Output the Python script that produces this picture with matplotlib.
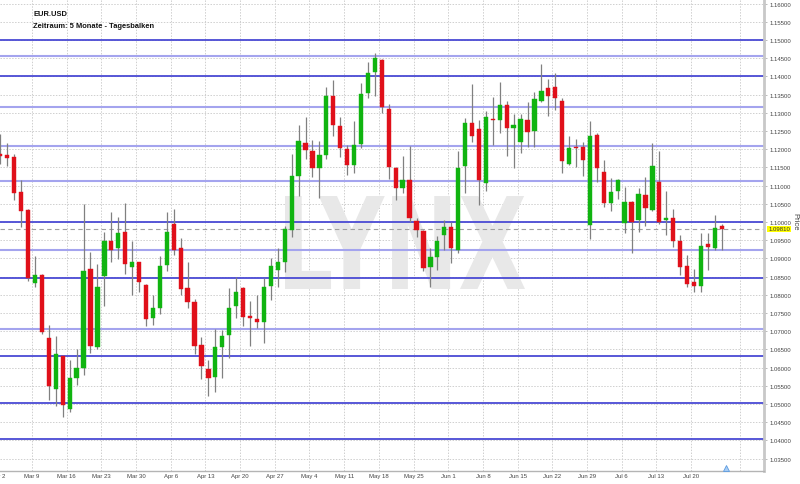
import matplotlib
matplotlib.use('Agg')
import matplotlib.pyplot as plt
import numpy as np
from matplotlib.textpath import TextPath
from matplotlib.patches import PathPatch
from matplotlib.font_manager import FontProperties
from matplotlib.transforms import Affine2D

# ---------------- data ----------------
opens = [1.1187, 1.1185, 1.1178, 1.1083, 1.1033, 1.0832, 1.0853, 1.0681, 1.0541, 1.0631,
         1.0486, 1.0572, 1.0600, 1.0870, 1.0656, 1.0851, 1.0949, 1.0929, 1.0972, 1.0876,
         1.0889, 1.0827, 1.0736, 1.0764, 1.0883, 1.0995, 1.0928, 1.0818, 1.0781, 1.0662,
         1.0596, 1.0575, 1.0657, 1.0690, 1.0768, 1.0819, 1.0741, 1.0734, 1.0726, 1.0823,
         1.0868, 1.0891, 1.0979, 1.1126, 1.1217, 1.1196, 1.1148, 1.1185, 1.1347, 1.1263,
         1.1201, 1.1157, 1.1214, 1.1354, 1.1413, 1.1445, 1.1310, 1.1148, 1.1093, 1.1115,
         1.1004, 1.0975, 1.0877, 1.0903, 1.0964, 1.0985, 1.0924, 1.1153, 1.1271, 1.1255,
         1.1106, 1.1283, 1.1280, 1.1322, 1.1258, 1.1221, 1.1280, 1.1249, 1.1333, 1.1368,
         1.1372, 1.1332, 1.1159, 1.1207, 1.1205, 1.0993, 1.1239, 1.1137, 1.1052, 1.1086,
         1.0996, 1.1056, 1.1006, 1.1074, 1.1033, 1.1109, 1.1006, 1.1010, 1.0949, 1.0880,
         1.0836, 1.0825, 1.0940, 1.0929, 1.0990]
highs = [1.1242, 1.1216, 1.1187, 1.1114, 1.1035, 1.0907, 1.0857, 1.0717, 1.0686, 1.0633,
         1.0622, 1.0651, 1.1050, 1.0918, 1.0884, 1.0972, 1.1028, 1.1015, 1.1052, 1.0949,
         1.0891, 1.0829, 1.0800, 1.0906, 1.1028, 1.1036, 1.0955, 1.0889, 1.0789, 1.0685,
         1.0621, 1.0706, 1.0704, 1.0818, 1.0848, 1.0821, 1.0782, 1.0800, 1.0846, 1.0900,
         1.0928, 1.0990, 1.1187, 1.1267, 1.1289, 1.1225, 1.1223, 1.1370, 1.1390, 1.1289,
         1.1212, 1.1278, 1.1381, 1.1440, 1.1464, 1.1447, 1.1324, 1.1150, 1.1180, 1.1208,
         1.1011, 1.0977, 1.0929, 1.0961, 1.1006, 1.1001, 1.1194, 1.1285, 1.1379, 1.1280,
         1.1306, 1.1343, 1.1385, 1.1333, 1.1297, 1.1297, 1.1329, 1.1358, 1.1434, 1.1393,
         1.1409, 1.1341, 1.1235, 1.1228, 1.1219, 1.1278, 1.1245, 1.1170, 1.1121, 1.1118,
         1.1095, 1.1059, 1.1093, 1.1124, 1.1216, 1.1196, 1.1084, 1.1035, 1.0964, 1.0909,
         1.0871, 1.0969, 1.0969, 1.1019, 1.0995]
lows = [1.1159, 1.1155, 1.1060, 1.0985, 1.0839, 1.0822, 1.0692, 1.0512, 1.0495, 1.0464,
        1.0479, 1.0553, 1.0580, 1.0639, 1.0651, 1.0768, 1.0889, 1.0898, 1.0857, 1.0800,
        1.0807, 1.0713, 1.0718, 1.0747, 1.0864, 1.0909, 1.0800, 1.0763, 1.0637, 1.0569,
        1.0521, 1.0534, 1.0572, 1.0626, 1.0736, 1.0713, 1.0660, 1.0708, 1.0667, 1.0787,
        1.0821, 1.0862, 1.0960, 1.1071, 1.1173, 1.1123, 1.1065, 1.1173, 1.1237, 1.1178,
        1.1130, 1.1134, 1.1202, 1.1340, 1.1347, 1.1299, 1.1118, 1.1061, 1.1079, 1.1001,
        1.0960, 1.0864, 1.0821, 1.0868, 1.0923, 1.0887, 1.0915, 1.1079, 1.1221, 1.1048,
        1.1084, 1.1212, 1.1244, 1.1180, 1.1148, 1.1189, 1.1205, 1.1205, 1.1329, 1.1290,
        1.1308, 1.1135, 1.1156, 1.1151, 1.1127, 1.0953, 1.1111, 1.1040, 1.1031, 1.1063,
        1.0970, 1.0915, 1.0973, 1.0990, 1.1029, 1.0995, 1.0964, 1.0930, 1.0854, 1.0821,
        1.0807, 1.0809, 1.0868, 1.0923, 1.0923]
closes = [1.1181, 1.1177, 1.1079, 1.1031, 1.0845, 1.0853, 1.0699, 1.0550, 1.0637, 1.0498,
          1.0571, 1.0599, 1.0865, 1.0660, 1.0822, 1.0947, 1.0924, 1.0970, 1.0885, 1.0889,
          1.0834, 1.0734, 1.0764, 1.0880, 1.0972, 1.0924, 1.0816, 1.0781, 1.0660, 1.0605,
          1.0571, 1.0656, 1.0686, 1.0763, 1.0809, 1.0738, 1.0737, 1.0725, 1.0822, 1.0878,
          1.0891, 1.0981, 1.1127, 1.1223, 1.1198, 1.1148, 1.1184, 1.1345, 1.1267, 1.1202,
          1.1157, 1.1212, 1.1352, 1.1409, 1.1450, 1.1315, 1.1150, 1.1093, 1.1114, 1.1011,
          1.0978, 1.0873, 1.0905, 1.0949, 1.0987, 1.0929, 1.1148, 1.1272, 1.1237, 1.1116,
          1.1289, 1.1280, 1.1322, 1.1258, 1.1266, 1.1283, 1.1248, 1.1338, 1.1359, 1.1347,
          1.1340, 1.1167, 1.1204, 1.1203, 1.1170, 1.1235, 1.1148, 1.1052, 1.1083, 1.1114,
          1.1054, 1.0999, 1.1076, 1.1038, 1.1155, 1.1001, 1.1010, 1.0949, 1.0876, 1.0830,
          1.0825, 1.0933, 1.0931, 1.0983, 1.0981]

week_labels = ['Mar 2', 'Mar 9', 'Mar 16', 'Mar 23', 'Mar 30', 'Apr 6', 'Apr 13', 'Apr 20',
               'Apr 27', 'May 4', 'May 11', 'May 18', 'May 25', 'Jun 1', 'Jun 8', 'Jun 15',
               'Jun 22', 'Jun 29', 'Jul 6', 'Jul 13', 'Jul 20']
week_start_idx = [0, 5, 10, 15, 20, 25, 30, 35, 40, 45, 50, 55, 60, 65, 70, 75, 80, 85, 90, 95, 100]

strong_levels = [1.1500, 1.1400, 1.1000, 1.0846, 1.0632, 1.0503, 1.0404]
light_levels = [1.1456, 1.1316, 1.1209, 1.1113, 1.0923, 1.0706]
last_price = 1.0981
price_ticks = [1.035 + 0.005 * k for k in range(26)]

title1 = 'EUR.USD'
title2 = 'Zeitraum: 5 Monate - Tagesbalken'

# ---------------- figure ----------------
fig = plt.figure(figsize=(8, 4.85), dpi=100)
ax = fig.add_axes([0, 1 - 472 / 485, 764 / 800, 472 / 485])
ax.set_facecolor('white')

n = len(opens)
x = np.arange(n)
ax.set_xlim(-0.043, 110.09)
ax.set_ylim(1.03159, 1.16126)

# grid
grid_col = '#cfcfcf'
for t in price_ticks:
    ax.axhline(t, color=grid_col, lw=0.7, ls=(0, (1.5, 1.5)), zorder=0)
grid_x = [i - 0.43 for i in week_start_idx] + [n - 1 + 3 - 0.43]
for gx in grid_x:
    ax.axvline(gx, color=grid_col, lw=0.7, ls=(0, (1.5, 1.5)), zorder=0)

# watermark
fp = FontProperties(family='DejaVu Sans', weight='bold')
tp = TextPath((0, 0), 'LYNX', size=1, prop=fp)
ext = tp.get_extents()
x0f, x1f = 285 / 764, 525 / 764
y0f, y1f = 1 - 290 / 472, 1 - 197 / 472
tr = Affine2D().translate(-ext.x0, -ext.y0).scale((x1f - x0f) / ext.width,
                                                   (y1f - y0f) / ext.height).translate(x0f, y0f)
wm = PathPatch(tr.transform_path(tp), facecolor='#e8e8e8', edgecolor='none',
               transform=ax.transAxes, zorder=1)
ax.add_patch(wm)

# level lines
for lv in strong_levels:
    ax.axhline(lv, color='#4a4ad4', lw=1.3, zorder=2)
for lv in light_levels:
    ax.axhline(lv, color='#a4a4ee', lw=1.5, zorder=2)
ax.axhline(last_price, color='#a0a0a0', lw=0.8, ls=(0, (4, 3)), zorder=2)

# candles
o = np.array(opens); h = np.array(highs); l = np.array(lows); c = np.array(closes)
up = c >= o
ax.vlines(x, l, h, color='#808080', lw=0.9, zorder=3)
bottom = np.minimum(o, c)
height = np.maximum(np.abs(c - o), 0.00025)
cols = np.where(up, '#10b410', '#e0101a')
ax.bar(x, height, bottom=bottom, width=0.62, color=cols, edgecolor=cols, lw=0.3, zorder=4)

# future marker triangle
ax.plot([n - 1 + 0.57], [1.03159 + 0.0009], marker='^', ms=4.5, mfc='#a8cdf5',
        mec='#5b9be0', mew=0.6, clip_on=False, zorder=5)

# axes styling
for s in ['top', 'left']:
    ax.spines[s].set_visible(False)
ax.spines['right'].set_color('#c8c8c8')
ax.spines['right'].set_linewidth(2)
ax.spines['bottom'].set_color('#b4b4b4')
ax.spines['bottom'].set_linewidth(1)
ax.yaxis.tick_right()
ax.set_yticks(price_ticks)
ax.set_yticklabels(['%.5f' % t for t in price_ticks])
ax.tick_params(axis='y', length=2, width=0.6, color='#b0b0b0', pad=2,
               labelsize=4.3, labelcolor='#444444')
for lab in ax.get_yticklabels():
    lab.set_family('Liberation Sans')
ax.set_xticks([])

xt = ax.get_xaxis_transform()
for gx, lab in zip(grid_x, week_labels):
    ax.text(gx, -0.0085, lab, transform=xt, ha='center', va='center', fontsize=4.3,
            color='#444444', family='Liberation Sans', clip_on=False)

# last price label
ax.text(1.0055, last_price, '1.09810', transform=ax.get_yaxis_transform(), ha='left',
        va='center', fontsize=4.3, color='#333333', family='Liberation Sans',
        bbox=dict(boxstyle='square,pad=0.15', fc='#ffff00', ec='none'), clip_on=False, zorder=6)

fig.text(794.5 / 800, 1 - 222 / 485, 'Price', rotation=270, ha='center', va='center',
         fontsize=5.5, color='#444444', family='Liberation Sans')

fig.text(33 / 800, 1 - 15 / 485, title1, ha='left', va='center', fontsize=5.4,
         fontweight='bold', family='Liberation Sans', color='#111111')
fig.text(33 / 800, 1 - 26 / 485, title2, ha='left', va='center', fontsize=5.4,
         fontweight='bold', family='Liberation Sans', color='#111111')

fig.savefig('out.png', dpi=100)
